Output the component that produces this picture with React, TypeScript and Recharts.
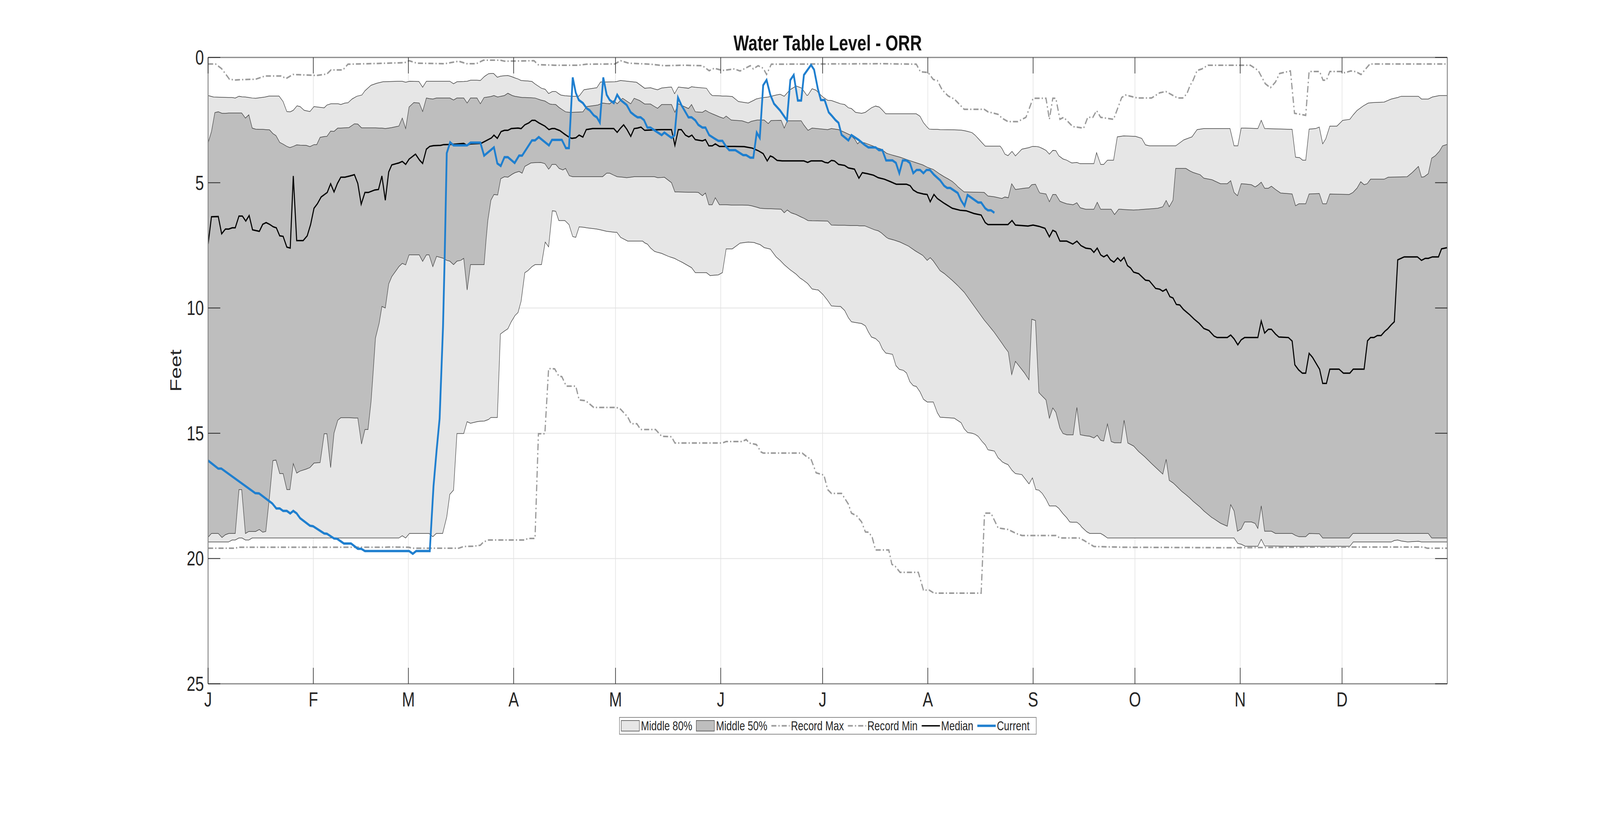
import { ComposedChart, Area, Line, XAxis, YAxis, CartesianGrid, ReferenceLine, Legend } from 'recharts';

const FONT = '"Liberation Sans", Arial, Helvetica, sans-serif';
const WIDTH = 5375;
const HEIGHT = 2096;
const PLOT = { left: 699, top: 147, right: 4862, bottom: 1750 };
const TICK_LEN = 41;
const Y_AXIS_W = 120;
const X_AXIS_H = 100;

const LIGHT = '#e6e6e6';
const DARK = '#bebebe';
const EDGE = '#404040';
const RECORD = '#9a9a9a';
const BLUE = '#1f7fcf';
const TEXT = '#262626';
const DASH_DOT = '17 7 4 7';

const MONTH_TICKS = [0, 31, 59, 90, 120, 151, 181, 212, 243, 273, 304, 334];
const MONTH_LABELS = ['J', 'F', 'M', 'A', 'M', 'J', 'J', 'A', 'S', 'O', 'N', 'D'];
const FEET_TICKS = [0, 5, 10, 15, 20, 25];
const LEGEND_LABELS = ['Middle 80%', 'Middle 50%', 'Record Max', 'Record Min', 'Median', 'Current'];

// [day of year, upper edge (ft), lower edge (ft)]
const middle80: [number, number, number][] = [
  [0, 1.52, 19.34], [1.6, 1.58, 19.34], [6, 1.6, 19.34], [7.1, 1.6, 19.26], [8, 1.62, 19.26],
  [9.1, 1.55, 19.18], [10, 1.57, 19.18], [11, 1.58, 19.26], [12, 1.6, 19.26], [13, 1.62, 19.18],
  [14, 1.63, 19.18], [16.8, 1.58, 19.18], [18, 1.54, 19.18], [20.9, 1.54, 19.18], [22.1, 1.76, 19.18],
  [23.2, 2.16, 19.18], [24.2, 2.17, 19.18], [25.1, 2.11, 19.18], [26.2, 1.93, 19.18], [27.1, 1.96, 19.18],
  [28.3, 2.11, 19.18], [30, 2.16, 19.18], [31.2, 1.96, 19.18], [34.2, 2.01, 19.18], [35, 1.9, 19.18],
  [36.2, 1.85, 19.18], [38.3, 1.85, 19.18], [39.1, 1.88, 19.18], [40.3, 1.82, 19.18], [41.2, 1.81, 19.18],
  [42.4, 1.66, 19.18], [43.8, 1.55, 19.18], [45.3, 1.5, 19.18], [46.2, 1.33, 19.18], [48, 1.11, 19.18],
  [49.7, 1.03, 19.18], [51.5, 0.97, 19.18], [56.2, 0.95, 19.18], [57.2, 0.95, 19.09], [58.2, 0.99, 19.18],
  [59.3, 0.95, 19.0], [62.1, 0.96, 19.0], [63.2, 1.19, 19.0], [64.3, 0.95, 19.0], [65.1, 0.95, 19.0],
  [66.2, 0.95, 19.13], [67.2, 0.95, 19.0], [69.1, 0.95, 19.0], [70.3, 0.95, 18.34], [71.2, 0.95, 17.44],
  [72.3, 1.05, 17.27], [73.3, 0.97, 15.01], [75.3, 0.96, 15.01], [76.3, 0.95, 14.54], [77.3, 0.91, 14.6],
  [79.2, 0.91, 14.54], [80.2, 0.92, 14.52], [81.4, 0.76, 14.51], [82.6, 0.65, 14.45], [83.3, 0.64, 14.37],
  [84.1, 0.64, 14.37], [85.2, 0.79, 14.37], [86.1, 0.75, 11.04], [87.3, 0.73, 10.92], [88.3, 0.72, 10.83],
  [89.3, 0.76, 10.55], [90.4, 0.82, 10.3], [91.3, 0.86, 10.18], [92.2, 0.92, 9.73], [93.3, 0.93, 8.59],
  [94.2, 0.94, 8.51], [95.4, 0.96, 8.35], [96.3, 1.06, 8.27], [98.2, 1.23, 8.27], [99.3, 1.27, 7.37],
  [100.3, 1.44, 7.56], [101.4, 1.36, 6.12], [102.4, 1.36, 6.14], [103.3, 1.45, 6.51], [103.9, 1.5, 6.51],
  [105.1, 1.53, 6.51], [106.3, 1.54, 6.67], [107.4, 1.55, 7.15], [108.3, 1.55, 7.18], [109.3, 1.54, 6.76],
  [110.7, 1.29, 6.78], [111.5, 1.27, 6.8], [114.5, 1.21, 6.85], [115.6, 0.98, 6.88], [117.4, 0.98, 6.94],
  [119.8, 0.97, 6.98], [120.4, 0.96, 6.98], [121.5, 0.92, 7.18], [123.6, 0.95, 7.33], [126.2, 0.99, 7.33],
  [128, 1.17, 7.33], [128.6, 1.23, 7.4], [129.4, 1.22, 7.45], [130.3, 1.21, 7.6], [131.5, 1.26, 7.74],
  [132.4, 1.29, 7.78], [133.6, 1.22, 7.82], [135.6, 1.19, 7.94], [136.5, 1.18, 7.98], [137.4, 1.45, 8.02],
  [138.5, 1.18, 8.1], [139.7, 1.2, 8.18], [141.5, 1.23, 8.32], [142.4, 1.17, 8.39], [143.5, 1.19, 8.59],
  [146.8, 1.23, 8.59], [147.9, 1.45, 8.71], [148.5, 1.52, 8.7], [150.3, 1.53, 8.68], [151.5, 1.54, 8.59],
  [152.6, 1.54, 7.64], [154.4, 1.56, 7.64], [156.2, 1.76, 7.46], [156.7, 1.77, 7.41], [159.1, 1.82, 7.37],
  [160.9, 1.7, 7.39], [161.4, 1.66, 7.42], [162.6, 1.62, 7.47], [163.8, 1.6, 7.59], [165, 1.58, 7.63],
  [165.6, 1.56, 7.65], [167.3, 1.5, 7.96], [168.5, 1.47, 8.1], [169.7, 1.55, 8.27], [171.4, 1.29, 8.47],
  [172, 1.24, 8.53], [173.2, 1.14, 8.65], [174.4, 1.2, 8.81], [174.9, 1.23, 8.85], [176.4, 1.52, 9.0],
  [176.7, 1.5, 9.04], [177.9, 1.25, 9.24], [179.1, 1.31, 9.27], [179.7, 1.4, 9.28], [181.1, 1.58, 9.46],
  [182.5, 1.71, 9.7], [183.6, 1.72, 9.92], [185.7, 1.82, 9.94], [186.3, 1.85, 9.94], [187.5, 1.88, 10.1],
  [188.6, 2.01, 10.39], [189.5, 2.04, 10.55], [190.7, 2.19, 10.58], [192.5, 2.23, 10.62], [193.6, 2.19, 10.71],
  [194.5, 2.1, 10.96], [195.4, 2.01, 11.16], [196.6, 1.94, 11.22], [197.7, 1.98, 11.36], [198.6, 2.1, 11.63],
  [199.6, 2.25, 11.8], [201.6, 2.25, 11.85], [202.6, 2.25, 12.3], [203.6, 2.25, 12.45], [204.8, 2.25, 12.49],
  [205.7, 2.25, 12.59], [206.7, 2.25, 12.94], [207.7, 2.25, 13.1], [208.6, 2.25, 13.13], [209.7, 2.35, 13.35],
  [210.7, 2.6, 13.64], [211.8, 2.78, 13.75], [212.4, 2.86, 13.75], [213.6, 2.87, 13.75], [214.8, 2.87, 14.18],
  [215.6, 2.88, 14.36], [219.8, 2.89, 14.4], [221.8, 2.9, 14.58], [222.7, 2.92, 14.82], [223.7, 2.95, 14.97],
  [225, 3.0, 15.0], [225.9, 3.1, 15.04], [226.8, 3.23, 15.12], [228, 3.41, 15.33], [228.9, 3.54, 15.46],
  [229.7, 3.54, 15.66], [231.6, 3.54, 15.71], [232.7, 3.54, 15.98], [233.3, 3.54, 16.05], [233.9, 3.65, 16.14],
  [234.7, 3.86, 16.2], [235.6, 3.92, 16.25], [236.8, 3.75, 16.48], [237.8, 3.93, 16.61], [239.7, 3.66, 16.65],
  [241.8, 3.6, 17.02], [242.8, 3.55, 16.78], [243.8, 3.55, 17.25], [244.7, 3.57, 17.27], [245.7, 3.63, 17.4],
  [246.8, 3.71, 17.63], [247.8, 3.86, 17.9], [248.8, 3.71, 17.9], [249.7, 3.72, 17.9], [250.6, 3.93, 18.0],
  [251.8, 4.05, 18.21], [252.9, 4.1, 18.37], [253.8, 4.17, 18.54], [254.4, 4.21, 18.55], [255.9, 4.19, 18.55],
  [256.8, 4.24, 18.65], [257.3, 4.24, 18.74], [258.8, 4.24, 18.93], [259.7, 4.24, 19.0], [260.9, 4.24, 19.0],
  [261.7, 3.8, 19.0], [262.9, 4.27, 19.0], [263.8, 4.27, 19.07], [264.9, 4.1, 19.18], [266.7, 4.1, 19.18],
  [267.8, 3.17, 19.18], [269.7, 3.13, 19.18], [273.2, 3.15, 19.18], [275, 3.23, 19.18], [276.1, 3.49, 19.18],
  [277.3, 3.53, 19.18], [285, 3.53, 19.18], [287.4, 3.29, 19.18], [289.8, 3.17, 19.18], [291.3, 2.88, 19.18],
  [293.3, 2.84, 19.18], [301, 2.84, 19.18], [302.2, 3.53, 19.18], [303.3, 3.53, 19.4], [304.3, 2.82, 19.43],
  [305.5, 2.82, 19.51], [309.2, 2.84, 19.51], [310.2, 2.51, 19.23], [311.2, 2.84, 19.5], [319.3, 2.87, 19.51],
  [320.3, 3.98, 19.51], [321.5, 4.0, 19.51], [322.4, 4.1, 19.51], [323.3, 4.1, 19.51], [324.3, 2.86, 19.51],
  [326.2, 2.84, 19.51], [327.3, 2.78, 19.51], [328.3, 3.45, 19.51], [329.2, 3.25, 19.51], [330.4, 2.74, 19.51],
  [332.5, 2.74, 19.51], [334.2, 2.51, 19.51], [336.3, 2.47, 19.51], [337.3, 2.29, 19.34], [338.4, 2.12, 19.34],
  [340.2, 1.94, 19.34], [341.7, 1.82, 19.34], [343.1, 1.8, 19.34], [346.4, 1.78, 19.34], [348.5, 1.66, 19.34],
  [349.4, 1.63, 19.28], [350.4, 1.6, 19.26], [351.4, 1.55, 19.3], [353.3, 1.55, 19.34], [356.5, 1.55, 19.31],
  [357.4, 1.66, 19.34], [359.4, 1.66, 19.34], [360.6, 1.58, 19.34], [362.7, 1.52, 19.34], [365, 1.52, 19.34],
];

const middle50: [number, number, number][] = [
  [0, 3.41, 19.15], [1, 2.96, 19.0], [2, 2.2, 19.0], [3, 2.17, 19.0], [4.1, 2.23, 19.16],
  [5.1, 2.23, 19.05], [6.1, 2.22, 19.0], [8, 2.22, 19.0], [9.1, 2.22, 17.25], [9.9, 2.22, 17.25],
  [11, 2.42, 19.0], [12, 2.29, 18.92], [13, 2.82, 18.92], [14, 2.86, 18.92], [15.1, 2.87, 18.84],
  [16.1, 2.87, 18.95], [17, 2.88, 18.92], [18.1, 2.89, 17.52], [19.1, 3.04, 16.09], [20, 3.12, 16.07],
  [21.1, 3.39, 16.61], [22.1, 3.46, 16.61], [23.2, 3.55, 17.25], [24.1, 3.6, 17.25], [25.1, 3.55, 16.21],
  [26.1, 3.49, 16.59], [27.1, 3.5, 16.51], [28.9, 3.51, 16.43], [30, 3.56, 16.37], [31.2, 3.48, 16.19],
  [32, 3.48, 16.18], [33, 3.19, 16.17], [34.2, 3.16, 15.02], [35, 3.15, 15.02], [36.1, 2.94, 16.37],
  [37.1, 2.95, 14.99], [38.2, 2.82, 14.48], [39.1, 2.82, 14.38], [41.5, 2.8, 14.38], [43.1, 2.65, 14.39],
  [44.1, 2.66, 14.39], [45.2, 2.81, 15.43], [46.2, 2.81, 14.85], [47.1, 2.81, 14.85], [48, 2.81, 13.74],
  [48.6, 2.81, 12.6], [49.3, 2.81, 11.2], [50.4, 2.82, 10.6], [51.2, 2.82, 9.94], [52.2, 2.84, 10.0],
  [53.2, 2.82, 9.04], [54.1, 2.8, 8.75], [56.2, 2.74, 8.35], [57.2, 2.42, 8.22], [58.2, 2.84, 8.28],
  [59.2, 1.98, 7.88], [60.6, 1.8, 7.88], [62.2, 1.82, 7.88], [63.2, 2.16, 8.14], [64.3, 1.62, 7.88],
  [65.1, 1.64, 7.88], [66.2, 1.66, 8.35], [67.3, 1.62, 7.94], [69.4, 1.62, 8.02], [70.3, 1.62, 8.1],
  [71.2, 1.62, 8.13], [72.3, 1.7, 8.27], [73.3, 1.62, 8.13], [74.4, 1.62, 8.1], [75.3, 1.62, 8.02],
  [76.3, 1.82, 9.28], [77.3, 1.62, 8.27], [79.2, 1.62, 8.27], [80.2, 1.85, 8.27], [81.3, 1.6, 8.27],
  [81.9, 1.59, 7.25], [82.4, 1.58, 6.51], [83.3, 1.56, 5.7], [84.2, 1.52, 5.47], [85.3, 1.58, 5.49],
  [86.2, 1.55, 4.84], [87.3, 1.52, 4.76], [88.3, 1.43, 4.78], [89.6, 1.52, 4.66], [90.4, 1.55, 4.6],
  [91.6, 1.58, 4.55], [92.5, 1.6, 4.62], [93.3, 1.6, 4.35], [95.1, 1.61, 4.21], [96.3, 1.62, 4.2],
  [98, 1.7, 4.19], [99.2, 1.74, 4.24], [100.3, 1.83, 4.46], [100.7, 1.86, 4.4], [101.3, 1.87, 4.27],
  [102.4, 1.88, 4.27], [103.4, 2.0, 4.43], [104.5, 2.1, 4.49], [105.3, 2.17, 4.43], [106.4, 2.19, 4.72],
  [107.4, 2.19, 4.76], [110.4, 2.17, 4.76], [111.5, 1.96, 4.76], [114.8, 1.9, 4.76], [116.2, 1.82, 4.76],
  [117.4, 1.84, 4.62], [118.3, 1.85, 4.62], [119.5, 1.72, 4.7], [120.5, 1.85, 4.76], [122.1, 1.63, 4.78],
  [123.3, 1.74, 4.8], [124.5, 1.85, 4.78], [125.5, 1.63, 4.76], [127.1, 1.72, 4.76], [128.6, 1.86, 4.76],
  [130.3, 1.86, 4.76], [131.5, 1.96, 4.76], [132.4, 2.03, 4.8], [133.6, 1.88, 4.79], [134.4, 1.88, 4.78],
  [136.5, 1.88, 5.0], [137.5, 2.19, 5.37], [138.5, 1.85, 5.37], [141.5, 2.04, 5.38], [142.4, 1.88, 5.38],
  [143.5, 2.17, 5.38], [144.4, 2.18, 5.39], [145.6, 2.19, 5.52], [146.5, 2.11, 5.41], [147.5, 2.19, 5.88],
  [148.5, 2.25, 5.88], [149.4, 2.3, 5.6], [150.6, 2.37, 5.88], [151.8, 2.43, 5.88], [152.6, 2.34, 5.88],
  [154.1, 2.5, 5.89], [157.3, 2.53, 5.89], [159.1, 2.61, 5.9], [160, 2.55, 5.92], [161.7, 2.5, 5.98],
  [162.6, 2.5, 6.02], [163.8, 2.5, 6.03], [165, 2.64, 6.04], [165.8, 2.52, 6.04], [168.8, 2.51, 6.06],
  [169.7, 2.82, 6.2], [170.6, 2.53, 6.09], [171.7, 2.53, 6.2], [173.2, 2.53, 6.27], [174.7, 2.53, 6.37],
  [175.5, 2.7, 6.42], [176.7, 2.91, 6.51], [177.9, 2.82, 6.52], [182.5, 2.88, 6.53], [183.6, 2.84, 6.69],
  [185.7, 2.88, 6.7], [187.5, 2.99, 6.7], [189.2, 3.1, 6.71], [190.4, 3.25, 6.71], [191.3, 3.45, 6.71],
  [191.9, 3.37, 6.72], [193.4, 3.41, 6.72], [196.3, 3.56, 6.88], [197.4, 3.62, 6.92], [198.3, 3.66, 7.0],
  [199.8, 3.82, 7.18], [200.4, 3.85, 7.23], [202.1, 3.92, 7.29], [203.8, 3.98, 7.37], [206.3, 4.1, 7.53],
  [208.3, 4.19, 7.72], [210.5, 4.29, 7.9], [211.8, 4.38, 8.1], [212.7, 4.43, 7.99], [213.6, 4.47, 8.12],
  [215.6, 4.66, 8.51], [216.8, 4.76, 8.62], [218, 4.85, 8.76], [219.2, 4.95, 8.9], [220.3, 5.08, 9.04],
  [220.9, 5.17, 9.12], [222.7, 5.37, 9.37], [226.8, 5.38, 10.14], [228.6, 5.39, 10.48], [229.7, 5.53, 10.66],
  [231.5, 5.56, 10.96], [233.8, 5.63, 11.4], [234.7, 5.57, 11.58], [235.7, 5.6, 11.76], [236.7, 5.04, 12.66],
  [237.8, 5.27, 12.13], [240.4, 5.22, 12.58], [241.8, 5.2, 12.87], [242.6, 5.08, 10.45], [243.7, 5.06, 10.5],
  [244.7, 5.35, 13.37], [245, 5.41, 13.42], [246.8, 5.45, 13.67], [247.8, 5.76, 14.4], [248.8, 5.47, 13.99],
  [249.7, 5.47, 14.16], [250.9, 5.74, 14.79], [251.8, 5.79, 15.01], [252.9, 5.84, 15.06], [254.8, 5.88, 15.06],
  [255.9, 5.8, 13.97], [256.9, 6.0, 15.06], [258.5, 6.06, 15.1], [259.7, 6.06, 15.12], [260.9, 6.06, 15.19],
  [261.9, 5.78, 15.08], [262.9, 6.06, 15.28], [263.8, 6.06, 15.31], [264.9, 6.06, 14.63], [266, 6.06, 15.33],
  [267, 6.27, 15.38], [268.2, 6.06, 15.38], [268.9, 6.06, 15.38], [269.8, 6.07, 14.48], [270.9, 6.08, 15.39],
  [272.6, 6.09, 15.51], [274.1, 6.08, 15.73], [275.9, 6.06, 15.94], [277.9, 6.04, 16.21], [279.7, 6.02, 16.44],
  [281.2, 5.96, 16.63], [282.2, 5.71, 16.04], [283.1, 5.96, 16.88], [284.2, 5.7, 16.98], [285, 4.43, 17.08],
  [286.8, 4.43, 17.32], [288, 4.43, 17.45], [289.2, 4.53, 17.59], [290.1, 4.59, 17.71], [292.2, 4.68, 17.95],
  [293.3, 4.82, 18.1], [295.7, 4.88, 18.37], [296, 4.9, 18.39], [298.2, 5.04, 18.59], [300.2, 5.04, 18.71],
  [301.2, 4.92, 17.85], [302.2, 5.39, 18.1], [303.2, 5.52, 18.91], [304.3, 5.04, 18.82], [305.3, 5.05, 18.54],
  [307.3, 5.08, 18.54], [308.4, 5.17, 18.6], [309.2, 5.1, 18.8], [310.2, 4.98, 17.9], [311.2, 5.22, 18.91],
  [312.3, 5.22, 18.91], [313.2, 5.14, 18.91], [314.4, 5.27, 19.0], [315.9, 5.41, 19.0], [319.3, 5.45, 19.0],
  [320.3, 5.92, 19.08], [321.3, 5.84, 19.13], [323.3, 5.84, 19.13], [324.3, 5.45, 19.0], [327.3, 5.43, 19.01],
  [328.3, 5.84, 19.18], [329.4, 5.84, 19.18], [330.4, 5.45, 19.18], [336.1, 5.47, 19.18], [337.2, 5.39, 19.0],
  [338.4, 5.22, 19.0], [339.5, 4.96, 19.0], [340.5, 5.08, 19.0], [341.4, 5.04, 19.0], [342.4, 4.86, 19.0],
  [346.4, 4.86, 19.0], [347.6, 4.78, 19.0], [353.2, 4.76, 19.0], [354.7, 4.59, 19.0], [355.6, 4.47, 19.0],
  [356.5, 4.35, 19.0], [357.4, 4.78, 19.0], [358.2, 4.76, 19.0], [359.4, 4.64, 19.0], [360.4, 4.02, 19.18],
  [361.5, 3.92, 19.18], [362.7, 3.74, 19.18], [363.6, 3.53, 19.18], [365, 3.47, 19.18],
];

// [day of year, depth (ft)]
const recordMax: [number, number][] = [
  [0, 0.26], [2.2, 0.26], [4, 0.45], [6.3, 0.87], [8, 0.9], [11, 0.88], [14, 0.87], [16.8, 0.74],
  [21.5, 0.74], [23, 0.84], [25, 0.68], [32, 0.72], [35, 0.66], [36.2, 0.5], [39.7, 0.5], [41.2, 0.27],
  [50, 0.24], [57.9, 0.21], [59.2, 0.13], [61.5, 0.23], [69.7, 0.25], [73.8, 0.15], [76.1, 0.25], [79, 0.25],
  [81.1, 0.11], [86.1, 0.11], [87.3, 0.15], [96, 0.13], [97.2, 0.29], [102.1, 0.31], [109.2, 0.31],
  [111.5, 0.27], [119.8, 0.26], [121.5, 0.13], [123.9, 0.23], [130.3, 0.27], [134.4, 0.33], [140, 0.31],
  [145.6, 0.33], [147.6, 0.53], [149.1, 0.43], [151.5, 0.52], [155, 0.46], [156.7, 0.54], [159.7, 0.33],
  [160.6, 0.46], [162, 0.33], [163.5, 0.43], [164.5, 0.68], [165.9, 0.27], [198.6, 0.25], [208.6, 0.27],
  [209.8, 0.57], [212.1, 0.6], [213.6, 0.88], [214.8, 0.92], [216.2, 1.29], [218, 1.54], [219.8, 1.66],
  [222.7, 2.07], [228.6, 2.07], [229.7, 2.17], [232.7, 2.27], [233.9, 2.43], [235.6, 2.56], [238.5, 2.56],
  [240.9, 2.39], [243, 1.63], [246.8, 1.63], [247.8, 2.47], [248.8, 1.63], [249.7, 1.63], [250.9, 2.47],
  [252, 2.39], [254.7, 2.76], [257.9, 2.82], [259.1, 2.39], [260.6, 2.39], [261.7, 2.12], [262.9, 2.39],
  [266.7, 2.47], [269.1, 1.6], [270.2, 1.5], [273.8, 1.62], [277.9, 1.62], [280.3, 1.41], [282.1, 1.36],
  [285.6, 1.62], [287.1, 1.62], [288.3, 1.45], [289.2, 1.13], [290.1, 0.92], [291.3, 0.52], [292.7, 0.46],
  [294.5, 0.31], [307, 0.31], [309.3, 0.52], [311.4, 1.05], [312.9, 1.21], [314.4, 0.98], [315.6, 0.64],
  [318.8, 0.54], [320, 2.23], [323.3, 2.31], [324.3, 0.56], [327.4, 0.56], [328.4, 0.91], [329.4, 0.91],
  [330.4, 0.56], [333.6, 0.56], [334.8, 0.61], [336.6, 0.54], [338.1, 0.57], [339.6, 0.68], [342.2, 0.26],
  [365, 0.26],
];

const recordMin: [number, number][] = [
  [0, 19.59], [8, 19.59], [8.9, 19.55], [52.1, 19.55], [53.2, 19.54], [59.1, 19.55], [60.3, 19.59],
  [73.8, 19.59], [75.3, 19.52], [78.2, 19.51], [80.2, 19.47], [81.1, 19.34], [82.6, 19.26], [93.3, 19.26],
  [94.2, 19.2], [96.3, 19.2], [97.3, 15.02], [99.2, 15.02], [100.3, 12.42], [102.1, 12.43], [103.3, 12.72],
  [104.2, 12.74], [105.5, 13.12], [108.3, 13.12], [109.3, 13.67], [111.2, 13.7], [113.6, 13.97],
  [120.3, 13.97], [121.5, 14.04], [123.6, 14.35], [124.6, 14.62], [126.3, 14.62], [127.4, 14.85],
  [131.8, 14.85], [133.6, 15.12], [136.5, 15.14], [137.5, 15.39], [151.5, 15.39], [152.6, 15.33],
  [157.3, 15.33], [158.5, 15.25], [159.4, 15.39], [161.5, 15.45], [162.9, 15.75], [163.5, 15.79],
  [175, 15.79], [176.7, 15.98], [177.5, 16.0], [179.1, 16.58], [181.4, 16.67], [182.5, 17.25], [183.6, 17.4],
  [186.6, 17.4], [188.6, 17.83], [189.5, 18.19], [191, 18.29], [192.5, 18.54], [193.6, 18.94], [194.6, 18.95],
  [195.6, 19.15], [196.6, 19.66], [200.5, 19.66], [201.4, 20.23], [202.4, 20.31], [203.8, 20.55],
  [209.2, 20.55], [210.7, 21.26], [212.4, 21.26], [213.8, 21.38], [227.7, 21.38], [228.7, 18.19],
  [230.6, 18.19], [232.7, 18.78], [235.6, 18.84], [238, 19.0], [239.7, 19.08], [249.7, 19.08], [250.9, 19.18],
  [256.5, 19.18], [257.9, 19.27], [260.9, 19.52], [269.7, 19.55], [301.6, 19.57], [328.3, 19.54],
  [358, 19.54], [359.1, 19.59], [365, 19.59],
];

const median: [number, number][] = [
  [0, 7.45], [1, 6.36], [3, 6.35], [4, 7.04], [5.1, 6.85], [6.1, 6.85], [7.1, 6.8], [8, 6.8], [9.1, 6.33],
  [10.1, 6.33], [11.1, 6.53], [12.1, 6.31], [13.1, 6.88], [15.1, 6.94], [16.1, 6.66], [17.1, 6.59],
  [18.1, 6.66], [19.2, 6.76], [20.1, 6.8], [21.1, 7.12], [22.1, 7.14], [23.2, 7.57], [24.2, 7.61],
  [25.1, 4.73], [26.1, 7.31], [28, 7.31], [29.2, 7.12], [30.2, 6.67], [31.2, 6.02], [32.2, 5.84],
  [33.3, 5.57], [35.1, 5.39], [36.1, 5.04], [37.1, 5.37], [38.1, 5.03], [39.1, 4.78], [40.3, 4.78],
  [41.8, 4.73], [43.1, 4.68], [44.1, 5.03], [45.1, 5.86], [46.2, 5.39], [47.2, 5.39], [49.1, 5.29],
  [50.2, 5.27], [51.2, 4.73], [52.2, 5.7], [53.2, 4.57], [54.1, 4.29], [56.2, 4.21], [57.2, 4.15],
  [58.2, 4.27], [59.2, 4.06], [61.1, 3.86], [62.3, 4.1], [63.2, 4.23], [64.3, 3.66], [65.3, 3.55],
  [66.4, 3.52], [68.5, 3.51], [69.4, 3.48], [72, 3.47], [75.3, 3.43], [76.3, 3.51], [77.3, 3.45],
  [80.4, 3.43], [81.4, 3.36], [83.5, 3.21], [84.2, 3.1], [85.2, 3.23], [86.3, 2.96], [87.3, 2.91],
  [88.3, 2.91], [89.3, 2.84], [91.3, 2.82], [92.2, 2.84], [93.3, 2.69], [94.5, 2.61], [95.4, 2.51],
  [96.3, 2.51], [97.4, 2.61], [99.2, 2.74], [100.4, 2.88], [101.3, 2.84], [102.1, 2.84], [103.6, 2.92],
  [105.1, 3.07], [106.3, 3.18], [107.1, 3.23], [108.3, 3.21], [109.3, 3.1], [110.4, 3.18], [111.4, 2.88],
  [113.3, 2.84], [119.5, 2.84], [120.5, 2.99], [121.5, 2.82], [122.4, 2.69], [123.4, 2.88], [124.5, 3.15],
  [125.5, 2.84], [126.5, 2.82], [127.5, 2.78], [128.6, 2.91], [131.5, 2.89], [133.6, 2.88], [136.5, 2.88],
  [137.5, 3.51], [138.5, 2.88], [139.4, 2.88], [140.6, 3.1], [141.6, 3.17], [142.5, 3.1], [143.5, 3.28],
  [145.6, 3.33], [146.5, 3.28], [147.5, 3.53], [148.5, 3.53], [149.4, 3.45], [150.6, 3.55], [155, 3.55],
  [157.9, 3.56], [160.3, 3.62], [162, 3.72], [163.5, 3.84], [164.7, 4.13], [165.6, 3.93], [166.4, 3.98],
  [167.6, 4.11], [169.1, 4.13], [175.5, 4.13], [176.6, 4.19], [177.6, 4.13], [180.8, 4.13], [181.7, 4.19],
  [182.6, 4.21], [183.6, 4.11], [184.5, 4.13], [185.7, 4.27], [187.5, 4.31], [188.6, 4.41], [190.4, 4.46],
  [191.7, 4.82], [192.7, 4.6], [194.2, 4.64], [196, 4.7], [197.4, 4.8], [199.2, 4.86], [201, 4.96],
  [202.7, 5.06], [205.7, 5.06], [206.8, 5.12], [207.7, 5.29], [208.9, 5.39], [210.7, 5.45], [211.8, 5.47],
  [212.7, 5.76], [213.8, 5.47], [214.8, 5.63], [216.8, 5.82], [219.2, 6.02], [221.5, 6.1], [223.3, 6.12],
  [225.6, 6.23], [227.7, 6.29], [228.9, 6.59], [229.7, 6.67], [235.6, 6.67], [236.8, 6.51], [237.8, 6.69],
  [241.5, 6.73], [243, 6.69], [244.7, 6.74], [246.5, 6.82], [247.8, 7.16], [248.8, 6.9], [249.7, 6.96],
  [250.9, 7.33], [252.9, 7.33], [254.7, 7.45], [255.9, 7.33], [257.1, 7.51], [258.5, 7.61], [260, 7.64],
  [260.9, 7.78], [261.9, 7.61], [262.9, 7.88], [263.8, 7.96], [264.8, 7.88], [265.8, 8.08], [266.8, 8.17],
  [267.9, 8.0], [268.8, 8.13], [269.8, 7.98], [270.8, 8.31], [271.7, 8.4], [272.6, 8.57], [274.1, 8.63],
  [276.1, 8.89], [277.2, 8.91], [279.1, 9.22], [280.3, 9.25], [281.2, 9.33], [282.2, 9.25], [283.3, 9.55],
  [284.2, 9.6], [285.2, 9.86], [286.2, 9.88], [287.3, 10.06], [289.2, 10.28], [290.4, 10.44], [291.9, 10.61],
  [293.3, 10.82], [294.8, 10.9], [296.3, 11.12], [297.2, 11.18], [300.2, 11.18], [301.2, 11.08],
  [302.2, 11.23], [303.3, 11.47], [304.3, 11.27], [305.3, 11.18], [309.2, 11.18], [310.2, 10.52],
  [311.2, 11.0], [312.3, 10.85], [313.2, 10.85], [314.4, 11.04], [315.4, 11.16], [318.2, 11.18],
  [319.3, 11.32], [320.1, 12.27], [321.2, 12.47], [322.3, 12.6], [323.3, 12.6], [324.3, 11.81],
  [325.3, 11.97], [327.4, 12.45], [328.3, 13.01], [329.4, 13.01], [330.4, 12.44], [333.1, 12.44],
  [334.4, 12.6], [336.3, 12.6], [337.3, 12.44], [340.5, 12.44], [341.5, 11.31], [342.4, 11.18],
  [343.4, 11.18], [344.4, 11.1], [345.5, 11.1], [346.6, 10.93], [347.4, 10.84], [348.5, 10.67],
  [349.4, 10.55], [350.4, 8.08], [352.3, 7.96], [356.2, 7.96], [357.4, 8.1], [358.5, 8.02], [359.4, 8.02],
  [360.6, 7.96], [362.4, 7.96], [363.3, 7.64], [365, 7.59],
];

const current: [number, number][] = [
  [0, 16.09], [3, 16.41], [3.9, 16.41], [13.9, 17.39], [15, 17.4], [18.9, 17.8], [20.1, 18.0], [21.1, 18.0],
  [22.1, 18.1], [23.2, 18.1], [24.2, 18.2], [25.1, 18.1], [26.1, 18.2], [27.1, 18.39], [30, 18.69],
  [30.9, 18.71], [34.2, 19.0], [35, 19.01], [37.1, 19.2], [38, 19.21], [40, 19.4], [42.1, 19.4],
  [44.1, 19.61], [45.1, 19.61], [46.2, 19.7], [59.2, 19.7], [60.3, 19.81], [61.3, 19.7], [65.3, 19.7],
  [66.4, 17.11], [67.3, 15.7], [68.2, 14.41], [69.2, 10.75], [69.7, 7.9], [70.3, 3.82], [71.3, 3.39],
  [72.3, 3.51], [76.3, 3.51], [77.3, 3.4], [80.2, 3.4], [81.3, 3.92], [84.2, 3.59], [85.2, 4.23],
  [86.2, 4.33], [87.3, 3.98], [88.3, 3.98], [90.3, 4.21], [91.6, 3.92], [92.5, 3.92], [95.4, 3.31],
  [96.3, 3.31], [97.4, 3.18], [100.4, 3.51], [101.3, 3.29], [104.2, 3.29], [105.4, 3.62], [106.3, 3.62],
  [107.4, 0.8], [108.3, 1.41], [109.2, 1.7], [110.4, 1.82], [111.5, 2.03], [112.4, 2.11], [113.6, 2.31],
  [114.5, 2.39], [115.4, 2.6], [116.4, 0.8], [117.4, 1.49], [118.3, 1.7], [119.5, 1.82], [120.5, 1.49],
  [121.5, 1.7], [123.3, 1.9], [124.5, 2.19], [125.6, 2.31], [126.5, 2.39], [127.4, 2.39], [128.4, 2.5],
  [129.4, 2.8], [130.3, 2.8], [133.6, 3.1], [134.4, 3.0], [136.5, 3.21], [137.4, 3.1], [138.4, 1.6],
  [139.4, 1.9], [140.3, 2.11], [141.5, 2.39], [142.4, 2.39], [143.5, 2.51], [144.4, 2.69], [145.6, 2.8],
  [146.5, 2.8], [147.6, 3.1], [149.1, 3.23], [150.3, 3.33], [151.5, 3.33], [152.6, 3.56], [153.5, 3.7],
  [155.3, 3.7], [157.6, 3.9], [158.5, 3.9], [159.7, 4.0], [160.6, 4.0], [161.6, 3.0], [162.5, 3.21],
  [163.5, 1.11], [164.5, 0.9], [165.6, 1.49], [166.7, 1.85], [168.5, 2.12], [170.5, 2.51], [171.5, 0.9],
  [172.5, 0.7], [173.7, 1.72], [174.7, 1.72], [175.5, 0.7], [177.6, 0.3], [178.5, 0.49], [179.6, 1.25],
  [180.5, 1.7], [181.6, 1.7], [182.8, 2.19], [183.6, 2.31], [184.8, 2.5], [185.7, 2.61], [186.6, 3.09],
  [188.6, 3.31], [189.5, 3.1], [191.6, 3.29], [193.3, 3.48], [194.5, 3.59], [196.6, 3.59], [197.6, 3.7],
  [198.6, 3.7], [199.7, 4.11], [201.6, 4.11], [202.6, 4.21], [203.6, 4.62], [204.6, 4.11], [205.7, 4.11],
  [206.7, 4.21], [207.7, 4.62], [208.7, 4.49], [209.7, 4.49], [210.7, 4.62], [211.6, 4.49], [212.6, 4.49],
  [213.8, 4.68], [215.6, 4.9], [216.8, 5.12], [217.7, 5.21], [218.6, 5.21], [220.8, 5.41], [221.8, 5.71],
  [222.8, 5.92], [223.7, 5.49], [226.8, 5.79], [227.7, 5.79], [228.9, 6.02], [229.7, 6.1], [230.6, 6.1],
  [231.6, 6.2],
];

const toBand = (rows: [number, number, number][]) => rows.map(([d, hi, lo]) => ({ d, range: [hi, lo] }));
const toLine = (rows: [number, number][]) => rows.map(([d, v]) => ({ d, v }));

function MonthTick({ x, index }: any) {
  return (
    <g>
      <line x1={x} x2={x} y1={PLOT.bottom} y2={PLOT.bottom - TICK_LEN} stroke={TEXT} strokeWidth={2} />
      <line x1={x} x2={x} y1={PLOT.top} y2={PLOT.top + TICK_LEN} stroke={TEXT} strokeWidth={2} />
      <text x={x} y={PLOT.bottom + 58} textAnchor="middle" fontSize={52} fontFamily={FONT} fill={TEXT}>
        {MONTH_LABELS[index]}
      </text>
    </g>
  );
}

function FeetTick({ y, payload }: any) {
  return (
    <g>
      <line x1={PLOT.left} x2={PLOT.left + TICK_LEN} y1={y} y2={y} stroke={TEXT} strokeWidth={2} />
      <line x1={PLOT.right} x2={PLOT.right - TICK_LEN} y1={y} y2={y} stroke={TEXT} strokeWidth={2} />
      <text x={PLOT.left - 14} y={y + 18} textAnchor="end" fontSize={52} fontFamily={FONT} fill={TEXT}>
        {payload.value}
      </text>
    </g>
  );
}

function Patch({ fill }: { fill: string }) {
  return (
    <svg width={63} height={29} style={{ display: 'block' }}>
      <rect x={1} y={1} width={61} height={27} fill={fill} stroke={EDGE} strokeWidth={1.5} />
    </svg>
  );
}

function LineSample({ stroke, width, dash }: { stroke: string; width: number; dash?: string }) {
  return (
    <svg width={62} height={29} style={{ display: 'block' }}>
      <line x1={0} x2={62} y1={14.5} y2={14.5} stroke={stroke} strokeWidth={width} strokeDasharray={dash} />
    </svg>
  );
}

function LegendBox() {
  const swatches = [
    <Patch fill={LIGHT} />,
    <Patch fill={DARK} />,
    <LineSample stroke={RECORD} width={4} dash={DASH_DOT} />,
    <LineSample stroke={RECORD} width={4} dash={DASH_DOT} />,
    <LineSample stroke="#000" width={3.5} />,
    <LineSample stroke={BLUE} width={6} />,
  ];
  return (
    <div
      style={{
        display: 'flex', alignItems: 'center', height: 45, boxSizing: 'border-box',
        border: '2px solid #8c8c8c', background: '#fff', padding: '0 4px',
        fontFamily: FONT, fontSize: 33, color: TEXT, whiteSpace: 'nowrap',
      }}
    >
      {LEGEND_LABELS.map((label, i) => (
        <div key={label} style={{ display: 'flex', alignItems: 'center', marginRight: i < 5 ? 13 : 0 }}>
          {swatches[i]}
          <span style={{ marginLeft: 4 }}>{label}</span>
        </div>
      ))}
    </div>
  );
}

export default function App() {
  // the window can report a smaller CSS size than the 5375x2096 frame: stretch the fixed drawing to fill it
  const vw = typeof window !== 'undefined' && window.innerWidth ? window.innerWidth : WIDTH;
  const vh = typeof window !== 'undefined' && window.innerHeight ? window.innerHeight : HEIGHT;
  const sx = vw / WIDTH;
  const sy = vh / HEIGHT;
  return (
    <div
      style={{
        position: 'absolute', left: 0, top: 0, width: WIDTH * sx, height: HEIGHT * sy,
        overflow: 'hidden', background: '#fff',
      }}
    >
      <div
        style={{
          position: 'relative', width: WIDTH, height: HEIGHT, background: '#fff',
          transform: `scale(${sx}, ${sy})`, transformOrigin: '0 0',
        }}
      >
        <div
          style={{
            position: 'absolute', left: PLOT.left, width: PLOT.right - PLOT.left, top: 83,
            textAlign: 'center', fontFamily: FONT, fontWeight: 'bold', fontSize: 55, lineHeight: '55px', color: '#111',
          }}
        >
          Water Table Level - ORR
        </div>
        <ComposedChart
          width={WIDTH}
          height={HEIGHT}
          margin={{
            top: PLOT.top,
            right: WIDTH - PLOT.right,
            bottom: HEIGHT - PLOT.bottom - X_AXIS_H,
            left: PLOT.left - Y_AXIS_W,
          }}
        >
          <CartesianGrid stroke="#e2e2e2" strokeWidth={2} />
          <XAxis
            type="number"
            dataKey="d"
            domain={[0, 365]}
            ticks={MONTH_TICKS}
            interval={0}
            allowDataOverflow
            height={X_AXIS_H}
            axisLine={false}
            tickLine={false}
            tickSize={0}
            tickMargin={0}
            tick={<MonthTick />}
          />
          <YAxis
            type="number"
            domain={[0, 25]}
            ticks={FEET_TICKS}
            reversed
            allowDataOverflow
            width={Y_AXIS_W}
            axisLine={false}
            tickLine={false}
            tickSize={0}
            tickMargin={0}
            tick={<FeetTick />}
            label={({ viewBox }: any) => (
              <text
                x={viewBox.x + 11}
                y={viewBox.y + viewBox.height / 2}
                transform={`rotate(-90 ${viewBox.x + 11} ${viewBox.y + viewBox.height / 2})`}
                textAnchor="middle"
                dominantBaseline="central"
                fontSize={54}
                fontFamily={FONT}
                fill={TEXT}
              >
                Feet
              </text>
            )}
          />
          <Area
            data={toBand(middle80)}
            dataKey="range"
            type="linear"
            fill={LIGHT}
            fillOpacity={1}
            stroke={EDGE}
            strokeWidth={1.5}
            dot={false}
            activeDot={false}
            isAnimationActive={false}
          />
          <Area
            data={toBand(middle50)}
            dataKey="range"
            type="linear"
            fill={DARK}
            fillOpacity={1}
            stroke={EDGE}
            strokeWidth={1.5}
            dot={false}
            activeDot={false}
            isAnimationActive={false}
          />
          <Line data={toLine(recordMax)} dataKey="v" type="linear" stroke={RECORD} strokeWidth={4}
            strokeDasharray={DASH_DOT} dot={false} activeDot={false} isAnimationActive={false} />
          <Line data={toLine(recordMin)} dataKey="v" type="linear" stroke={RECORD} strokeWidth={4}
            strokeDasharray={DASH_DOT} dot={false} activeDot={false} isAnimationActive={false} />
          <Line data={toLine(median)} dataKey="v" type="linear" stroke="#000" strokeWidth={3.5}
            dot={false} activeDot={false} isAnimationActive={false} />
          <Line data={toLine(current)} dataKey="v" type="linear" stroke={BLUE} strokeWidth={6}
            dot={false} activeDot={false} isAnimationActive={false} />
          <ReferenceLine y={0} stroke="#868686" strokeWidth={3} />
          <ReferenceLine y={25} stroke="#868686" strokeWidth={3} />
          <ReferenceLine x={0} stroke="#868686" strokeWidth={3} />
          <ReferenceLine x={365} stroke="#868686" strokeWidth={3} />
          <Legend
            layout="horizontal"
            verticalAlign="middle"
            align="center"
            content={() => <LegendBox />}
            wrapperStyle={{ left: 2080, top: 1835, width: 1402, height: 45 }}
          />
        </ComposedChart>
      </div>
    </div>
  );
}
